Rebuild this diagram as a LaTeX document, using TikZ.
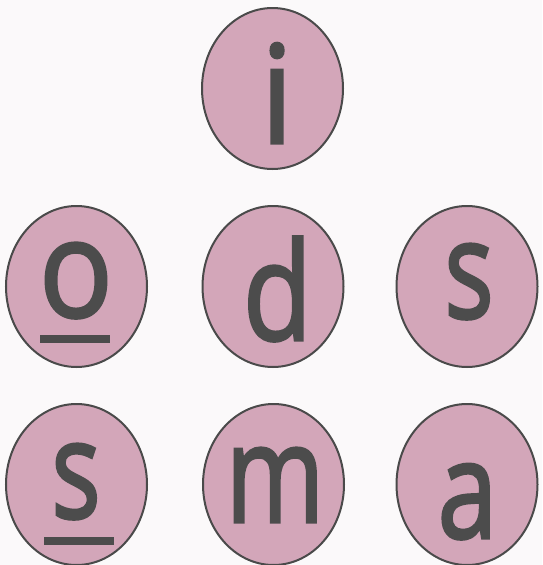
\documentclass[tikz,border=0pt]{standalone}
\usepackage{fontspec}
\setmainfont{Open Sans}[UprightFeatures={FakeBold=2.2}]
\usetikzlibrary{shapes.geometric}
\definecolor{bg}{HTML}{FBF9FA}
\definecolor{pinkfill}{HTML}{D3A6B9}
\definecolor{edge}{HTML}{4A4A4A}
\definecolor{ink}{HTML}{4C4C4C}
\newcommand{\glyphx}[2]{\scalebox{#1}[1]{#2}}
\begin{document}
\begin{tikzpicture}[x=1pt,y=-1pt,
  bubble/.style={ellipse, draw=edge, line width=2pt, fill=pinkfill, minimum width=141pt, minimum height=161pt, inner sep=0pt},
  letter/.style={anchor=base, inner sep=0pt, text=ink, font=\fontsize{136}{136}\selectfont},
  uline/.style={fill=ink, minimum width=70pt, minimum height=8pt, inner sep=0pt}]
\fill[bg] (0,0) rectangle (542,565);
\useasboundingbox (0,0) rectangle (542,565);
% ellipses
\node[bubble] (ei) at (272.5,88.5) {};
\node[bubble] (eo) at (76.5,286.5) {};
\node[bubble] (ed) at (273,286.5) {};
\node[bubble] (es1) at (467,286.5) {};
\node[bubble] (es2) at (76.5,484.5) {};
\node[bubble] (em) at (273.5,484.5) {};
\node[bubble] (ea) at (467,484.5) {};
% letters
\node[letter] (ti) at (277,143) {\glyphx{0.95}{i}};
\node[letter] (to) at (76,317) {\glyphx{0.9}{o}};
\node[letter] (td) at (277.5,340) {\glyphx{0.83}{d}};
\node[letter] (ts1) at (469,318) {\glyphx{0.76}{s}};
\node[letter] (ts2) at (76,518) {\glyphx{0.76}{s}};
\node[letter] (tm) at (275,522) {\glyphx{0.78}{m}};
\node[letter] (ta) at (467.5,538) {\glyphx{0.79}{a}};
% underlines
\node[uline] (uo) at (75,339) {};
\node[uline] (us) at (79,541) {};
\end{tikzpicture}
\end{document}
